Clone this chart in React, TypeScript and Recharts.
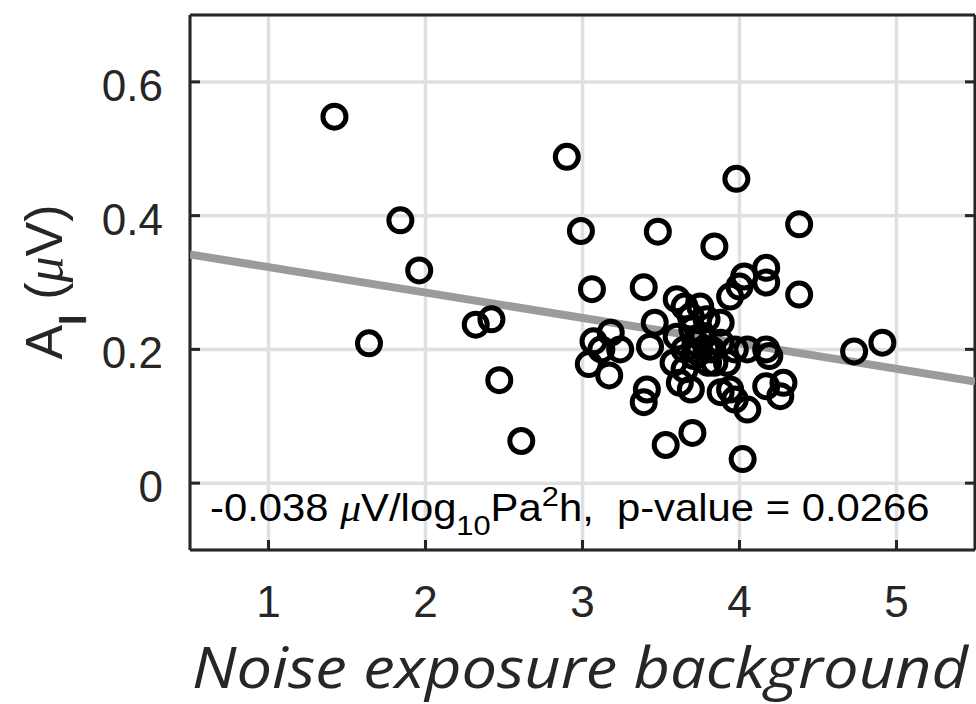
import React from "react";
import {
  ScatterChart,
  Scatter,
  XAxis,
  YAxis,
  CartesianGrid,
} from "recharts";

// noise exposure background (log10 Pa^2 h) per ear
const exposure = [
  1.42, 1.64, 1.84, 1.96, 2.32, 2.42, 2.47, 2.61, 2.9, 2.99, 3.06, 3.39, 3.48,
  3.84, 3.98, 4.38, 4.38, 4.73, 4.91, 3.53, 3.7, 4.02,
  3.07, 3.04, 3.17, 3.18, 3.24, 3.12, 3.39, 3.41, 3.43, 3.46,
  3.6, 3.65, 3.69, 3.79, 3.75, 3.6, 3.65, 3.71, 3.79, 3.84, 3.58, 3.65, 3.88,
  3.97, 3.92, 4.05, 4.17, 4.19, 3.88, 3.75,
  3.62, 3.69, 3.88, 3.94, 3.97, 4.05, 4.28, 4.26, 4.17,
  3.94, 4.0, 4.03, 4.17, 4.17,
  3.72, 3.77, 3.82, 3.7, 3.8, 3.74,
];

// wave I amplitude (uV)
const amplitude = [
  0.548, 0.209, 0.393, 0.318, 0.237, 0.245, 0.154, 0.063, 0.488, 0.377, 0.29,
  0.293, 0.376, 0.354, 0.455, 0.387, 0.282, 0.197, 0.21, 0.057, 0.075, 0.036,
  0.212, 0.178, 0.161, 0.225, 0.2, 0.2, 0.121, 0.14, 0.204, 0.24,
  0.275, 0.264, 0.249, 0.245, 0.219, 0.219, 0.2, 0.19, 0.2, 0.18, 0.18, 0.17,
  0.21, 0.2, 0.18, 0.2, 0.2, 0.19, 0.24, 0.264,
  0.15, 0.14, 0.136, 0.14, 0.125, 0.11, 0.15, 0.13, 0.145,
  0.279, 0.294, 0.309, 0.322, 0.3,
  0.21, 0.22, 0.2, 0.23, 0.18, 0.195,
];

const xTicks = [1, 2, 3, 4, 5];
const yTicks = [0, 0.2, 0.4, 0.6];

// linear fit
const slope = -0.038;
const intercept = 0.361;
const fitX = [0.5, 5.5];

const points = exposure.map((x, i) => ({ x, y: amplitude[i] }));
const fitLine = fitX.map((x) => ({ x, y: intercept + slope * x }));

const INK = "#262626";
const SANS = "'Liberation Sans', Arial, sans-serif";

const BottomTick = (props: any) => {
  const { x, y, payload } = props;
  return (
    <g>
      <line x1={x} x2={x} y1={y} y2={y - 10} stroke={INK} strokeWidth={3} />
      <text x={x} y={y + 67} textAnchor="middle" fontSize={44} fill={INK} fontFamily={SANS}>
        {payload.value}
      </text>
    </g>
  );
};

const LeftTick = (props: any) => {
  const { x, y, payload } = props;
  return (
    <g>
      <line x1={x} x2={x + 10} y1={y} y2={y} stroke={INK} strokeWidth={3} />
      <text x={x - 27} y={y + 19} textAnchor="end" fontSize={44} fill={INK} fontFamily={SANS}>
        {payload.value}
      </text>
    </g>
  );
};

const TopTick = (props: any) => {
  const { x, y } = props;
  return <line x1={x} x2={x} y1={y} y2={y + 10} stroke={INK} strokeWidth={3} />;
};

const RightTick = (props: any) => {
  const { x, y } = props;
  return <line x1={x} x2={x - 10} y1={y} y2={y} stroke={INK} strokeWidth={3} />;
};

const Ring = (props: any) => {
  const { cx, cy } = props;
  return <circle cx={cx} cy={cy} r={11.5} fill="none" stroke="#000" strokeWidth={5} />;
};

export default function App() {
  return (
    <div style={{ position: "absolute", left: 0, top: 0, background: "#fff" }}>
      <ScatterChart
        width={976}
        height={704}
        margin={{ top: 14, right: 0, bottom: 0, left: 0 }}
      >
        <CartesianGrid stroke="#e0e0e0" strokeWidth={3.5} />
        <XAxis
          type="number"
          dataKey="x"
          domain={[0.5, 5.5]}
          ticks={xTicks}
          allowDataOverflow
          height={154}
          tickLine={false}
          tickSize={0}
          tickMargin={0}
          axisLine={{ stroke: INK, strokeWidth: 3 }}
          tick={<BottomTick />}
        />
        <XAxis
          xAxisId="top"
          orientation="top"
          type="number"
          domain={[0.5, 5.5]}
          ticks={xTicks}
          allowDataOverflow
          height={1}
          tickLine={false}
          tickSize={0}
          tickMargin={0}
          axisLine={{ stroke: INK, strokeWidth: 3 }}
          tick={<TopTick />}
        />
        <YAxis
          type="number"
          dataKey="y"
          domain={[-0.1, 0.7]}
          ticks={yTicks}
          allowDataOverflow
          width={190}
          tickLine={false}
          tickSize={0}
          tickMargin={0}
          axisLine={{ stroke: INK, strokeWidth: 3 }}
          tick={<LeftTick />}
        />
        <YAxis
          yAxisId="right"
          orientation="right"
          type="number"
          domain={[-0.1, 0.7]}
          ticks={yTicks}
          allowDataOverflow
          width={1}
          tickLine={false}
          tickSize={0}
          tickMargin={0}
          axisLine={{ stroke: INK, strokeWidth: 3 }}
          tick={<RightTick />}
        />
        <Scatter
          data={fitLine}
          line={{ stroke: "#9b9b9b", strokeWidth: 8 }}
          shape={() => <g />}
          isAnimationActive={false}
        />
        <Scatter data={points} shape={<Ring />} isAnimationActive={false} />

        <g transform="translate(210,521) scale(1.1,1)">
          <text x={0} y={0} fontSize={38} fill="#000" fontFamily={SANS} style={{ whiteSpace: "pre" }}>
            -0.038{" "}
            <tspan fontFamily="'Liberation Serif', serif" fontStyle="italic">μ</tspan>
            V/log
            <tspan fontSize={28} dy={14}>10</tspan>
            <tspan dy={-14}>Pa</tspan>
            <tspan fontSize={28} dy={-15}>2</tspan>
            <tspan dy={15}>{"h,  p-value = 0.0266"}</tspan>
          </text>
        </g>

        <text
          transform="translate(62,282) rotate(-90)"
          textAnchor="middle"
          fontSize={52}
          fill={INK}
          fontFamily={SANS}
          style={{ whiteSpace: "pre" }}
        >
          A
          <tspan fontSize={38} fontWeight="bold" dy={24}>I</tspan>
          <tspan dy={-24}> (</tspan>
          <tspan fontFamily="'Liberation Serif', serif" fontStyle="italic">μ</tspan>
          <tspan>V)</tspan>
        </text>

        <text
          x={192}
          y={688}
          fontSize={56}
          fontStyle="italic"
          fill={INK}
          fontFamily="'Open Sans', sans-serif"
          textLength={776}
          lengthAdjust="spacingAndGlyphs"
        >
          Noise exposure background
        </text>
      </ScatterChart>
    </div>
  );
}
